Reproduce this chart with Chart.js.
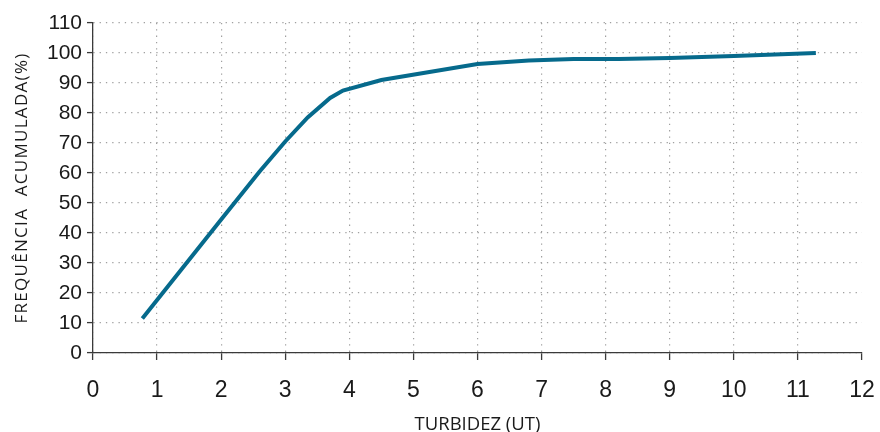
<!DOCTYPE html>
<html>
<head>
<meta charset="utf-8">
<script src="https://cdn.jsdelivr.net/npm/chart.js@4/dist/chart.umd.min.js"></script>
<style>
  html, body { margin: 0; padding: 0; background: #ffffff; }
  #wrap { width: 880px; height: 432px; position: relative; }
</style>
</head>
<body>
<div id="wrap"><canvas id="chart" width="880" height="432"></canvas></div>
<script>
// Cumulative frequency curve of turbidity
const turbidity = [0.77, 2.0, 2.6, 3.0, 3.35, 3.7, 3.9, 4.5, 6.0, 6.8, 7.5, 8.2, 9.0, 10.0, 11.28];
const cumulativePct = [11.5, 44.5, 60.5, 70.5, 78.5, 85, 87.5, 91, 96.3, 97.5, 98, 98, 98.3, 99, 100];
const xTicks = [0, 1, 2, 3, 4, 5, 6, 7, 8, 9, 10, 11, 12];
const yTicks = [0, 10, 20, 30, 40, 50, 60, 70, 80, 90, 100, 110];
const xTitle = 'TURBIDEZ (UT)';
const yTitle = 'FREQUÊNCIA  ACUMULADA(%)';

const points = turbidity.map((x, i) => ({ x: x, y: cumulativePct[i] }));

const gridDots = '#a0a0a0';
const axisColor = '#3a3a3a';

// Draw an axis title with extra tracking between letters
function trackTitle(scale, spacing) {
  if (scale._tracked) return;
  const drawTitle = scale.drawTitle;
  scale.drawTitle = function () {
    this.ctx.save();
    this.ctx.letterSpacing = spacing;
    drawTitle.call(this);
    this.ctx.restore();
  };
  scale._tracked = true;
}

new Chart(document.getElementById('chart'), {
  type: 'line',
  data: {
    datasets: [{
      data: points,
      borderColor: '#066a8c',
      borderWidth: 4,
      pointRadius: 0,
      tension: 0,
      fill: false
    }]
  },
  options: {
    responsive: false,
    animation: false,
    layout: { padding: { top: 23, right: 18, left: 12, bottom: 0 } },
    plugins: { legend: { display: false }, tooltip: { enabled: false } },
    scales: {
      x: {
        type: 'linear',
        min: 0,
        max: 12,
        afterBuildTicks: (s) => { s.ticks = xTicks.map(v => ({ value: v })); },
        afterFit: (s) => { s.height = 79; s.paddingRight = 0; s.paddingLeft = 0; },
        border: { display: true, color: axisColor, width: 1.3, dash: [1.3, 5] },
        grid: {
          color: (c) => (c.tick && c.tick.value === 12) ? 'rgba(0,0,0,0)' : gridDots,
          lineWidth: 1.2,
          drawTicks: true,
          tickLength: 7,
          tickColor: axisColor,
          tickWidth: 1.3
        },
        ticks: {
          color: '#1a1a1a',
          font: { family: '"Liberation Sans Narrow", "Liberation Sans", Arial', size: 23 },
          padding: 17,
          maxRotation: 0,
          autoSkip: false
        },
        title: {
          display: true,
          text: xTitle,
          color: '#1a1a1a',
          font: { family: '"Open Sans"', size: 18.5 },
          padding: { top: 0, bottom: -4 }
        }
      },
      y: {
        min: 0,
        max: 110,
        afterBuildTicks: (s) => { s.ticks = yTicks.map(v => ({ value: v })); },
        afterFit: (s) => {
          s.width = 81;
          trackTitle(s, '1.3px');
        },
        border: { display: true, color: axisColor, width: 1.3, dash: [1.3, 5] },
        grid: {
          color: gridDots,
          lineWidth: 1.2,
          drawTicks: true,
          tickLength: 6,
          tickColor: axisColor,
          tickWidth: 1.3
        },
        ticks: {
          color: '#1a1a1a',
          font: { family: '"Liberation Sans", Arial', size: 21 },
          padding: 5,
          autoSkip: false
        },
        title: {
          display: true,
          text: yTitle,
          color: '#1a1a1a',
          font: { family: '"Open Sans"', size: 17 },
          padding: { top: 0, bottom: 0 }
        }
      }
    }
  }
});
</script>
</body>
</html>
